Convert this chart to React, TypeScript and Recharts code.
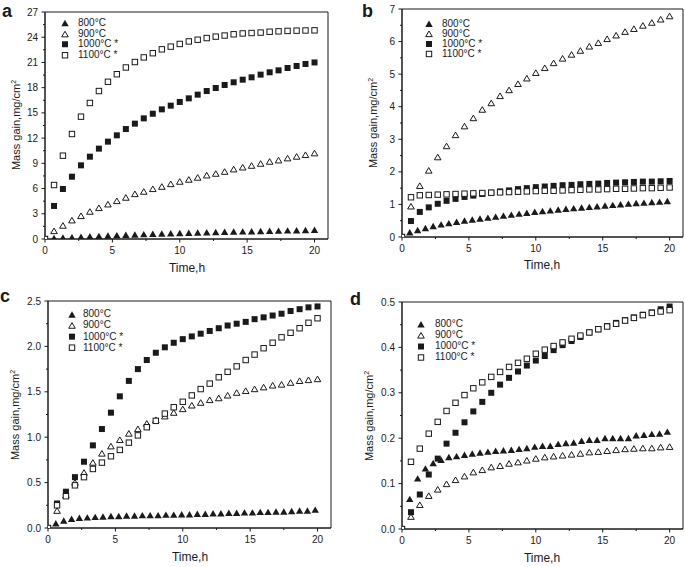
import { ScatterChart, Scatter, XAxis, YAxis, ReferenceArea, Legend } from 'recharts';

const INK = '#1a1a1a';
const FONT = '"Liberation Sans", Arial, Helvetica, sans-serif';

// legend names, plotted in this order so 1100 sits on top
const temps = ['800°C', '900°C', '1000°C *', '1100°C *'];

// sampling times (h): most runs every 40 min, the 800°C runs in b-d every 35 min
const t40 = [0, 0.67, 1.33, 2, 2.67, 3.33, 4, 4.67, 5.33, 6, 6.67, 7.33, 8, 8.67, 9.33, 10, 10.67, 11.33, 12, 12.67, 13.33, 14, 14.67, 15.33, 16, 16.67, 17.33, 18, 18.67, 19.33, 20];
const t35 = [0, 0.58, 1.17, 1.75, 2.33, 2.92, 3.5, 4.08, 4.67, 5.25, 5.83, 6.42, 7, 7.58, 8.17, 8.75, 9.33, 9.92, 10.5, 11.08, 11.67, 12.25, 12.83, 13.42, 14, 14.58, 15.17, 15.75, 16.33, 16.92, 17.5, 18.08, 18.67, 19.25, 19.83];

// panel a
const a800 = [0, 0.1, 0.15, 0.2, 0.25, 0.3, 0.35, 0.4, 0.44, 0.48, 0.52, 0.56, 0.6, 0.63, 0.66, 0.69, 0.72, 0.75, 0.78, 0.8, 0.83, 0.86, 0.88, 0.9, 0.93, 0.95, 0.97, 1.0, 1.02, 1.04, 1.07];
const a900 = [0, 0.95, 1.59, 2.22, 2.74, 3.25, 3.69, 4.12, 4.52, 4.92, 5.35, 5.63, 5.95, 6.22, 6.54, 6.82, 7.06, 7.3, 7.57, 7.77, 8.0, 8.29, 8.52, 8.72, 8.96, 9.2, 9.36, 9.6, 9.8, 10.0, 10.2];
const a1000 = [0, 3.93, 5.95, 7.41, 8.76, 9.79, 10.75, 11.58, 12.33, 13.08, 13.72, 14.35, 14.9, 15.42, 15.86, 16.3, 16.73, 17.17, 17.6, 17.96, 18.32, 18.64, 18.95, 19.23, 19.55, 19.83, 20.06, 20.34, 20.58, 20.82, 21.0];
const a1100 = [0, 6.42, 9.91, 12.49, 14.55, 16.18, 17.6, 18.7, 19.6, 20.4, 21.05, 21.6, 22.1, 22.56, 22.88, 23.2, 23.5, 23.7, 23.9, 24.07, 24.2, 24.35, 24.45, 24.5, 24.55, 24.65, 24.7, 24.75, 24.78, 24.8, 24.82];

// panel b
const b800 = [0, 0.14, 0.21, 0.27, 0.33, 0.38, 0.42, 0.46, 0.5, 0.53, 0.56, 0.59, 0.62, 0.65, 0.68, 0.71, 0.74, 0.77, 0.79, 0.81, 0.84, 0.86, 0.88, 0.9, 0.92, 0.94, 0.96, 0.98, 1.0, 1.02, 1.04, 1.05, 1.07, 1.08, 1.1];
const b900 = [0, 0.94, 1.57, 2.04, 2.45, 2.79, 3.13, 3.4, 3.65, 3.91, 4.11, 4.33, 4.51, 4.7, 4.87, 5.04, 5.19, 5.34, 5.48, 5.6, 5.72, 5.85, 5.96, 6.08, 6.19, 6.3, 6.39, 6.49, 6.58, 6.68, 6.78];
const b1000 = [0, 0.49, 0.77, 0.91, 1.02, 1.11, 1.17, 1.23, 1.27, 1.32, 1.36, 1.4, 1.43, 1.47, 1.5, 1.53, 1.55, 1.57, 1.59, 1.6, 1.62, 1.63, 1.64, 1.66, 1.67, 1.68, 1.69, 1.7, 1.7, 1.71, 1.72];
const b1100 = [0, 1.22, 1.28, 1.29, 1.3, 1.31, 1.32, 1.33, 1.34, 1.35, 1.36, 1.37, 1.38, 1.39, 1.4, 1.41, 1.42, 1.42, 1.43, 1.44, 1.45, 1.46, 1.46, 1.47, 1.48, 1.48, 1.49, 1.5, 1.5, 1.51, 1.52];

// panel c
const c800 = [0, 0.05, 0.08, 0.1, 0.11, 0.115, 0.12, 0.125, 0.13, 0.13, 0.135, 0.135, 0.14, 0.14, 0.14, 0.145, 0.145, 0.15, 0.15, 0.155, 0.155, 0.16, 0.16, 0.165, 0.165, 0.17, 0.17, 0.175, 0.175, 0.18, 0.18, 0.185, 0.19, 0.19, 0.2];
const c900 = [0, 0.19, 0.36, 0.5, 0.61, 0.72, 0.82, 0.9, 0.97, 1.04, 1.09, 1.15, 1.19, 1.23, 1.27, 1.31, 1.35, 1.38, 1.41, 1.43, 1.46, 1.49, 1.51, 1.53, 1.55, 1.57, 1.58, 1.6, 1.62, 1.63, 1.64];
const c1000 = [0, 0.27, 0.4, 0.56, 0.73, 0.91, 1.09, 1.27, 1.45, 1.62, 1.75, 1.85, 1.93, 1.99, 2.04, 2.08, 2.11, 2.14, 2.17, 2.2, 2.23, 2.25, 2.27, 2.3, 2.32, 2.34, 2.36, 2.39, 2.41, 2.43, 2.44];
const c1100 = [0, 0.25, 0.35, 0.47, 0.56, 0.65, 0.72, 0.79, 0.86, 0.94, 1.02, 1.11, 1.18, 1.26, 1.33, 1.39, 1.46, 1.53, 1.59, 1.66, 1.72, 1.78, 1.85, 1.91, 1.98, 2.04, 2.1, 2.15, 2.2, 2.26, 2.31];

// panel d
const d800 = [0, 0.066, 0.111, 0.133, 0.145, 0.152, 0.158, 0.16, 0.163, 0.166, 0.168, 0.17, 0.172, 0.173, 0.174, 0.176, 0.178, 0.181, 0.183, 0.183, 0.187, 0.189, 0.19, 0.194, 0.196, 0.196, 0.2, 0.2, 0.2, 0.2, 0.206, 0.207, 0.209, 0.21, 0.214];
const d900 = [0, 0.027, 0.053, 0.073, 0.087, 0.099, 0.108, 0.116, 0.125, 0.13, 0.136, 0.139, 0.144, 0.147, 0.151, 0.155, 0.158, 0.16, 0.162, 0.164, 0.166, 0.169, 0.17, 0.172, 0.174, 0.176, 0.177, 0.178, 0.178, 0.18, 0.181];
const d1000 = [0, 0.037, 0.076, 0.12, 0.155, 0.188, 0.212, 0.235, 0.259, 0.28, 0.3, 0.318, 0.333, 0.347, 0.36, 0.371, 0.381, 0.394, 0.405, 0.414, 0.423, 0.433, 0.44, 0.447, 0.454, 0.46, 0.466, 0.472, 0.477, 0.484, 0.49];
const d1100 = [0, 0.148, 0.177, 0.21, 0.236, 0.26, 0.278, 0.295, 0.31, 0.323, 0.335, 0.346, 0.357, 0.366, 0.375, 0.386, 0.395, 0.403, 0.411, 0.419, 0.426, 0.433, 0.44, 0.446, 0.452, 0.459, 0.465, 0.471, 0.476, 0.479, 0.482];

// axis ticks (majors get labels, the halves in between are minor)
const xTicks = [0, 2.5, 5, 7.5, 10, 12.5, 15, 17.5, 20];
const yTicksA = [0, 1.5, 3, 4.5, 6, 7.5, 9, 10.5, 12, 13.5, 15, 16.5, 18, 19.5, 21, 22.5, 24, 25.5, 27];
const yTicksB = [0, 0.5, 1, 1.5, 2, 2.5, 3, 3.5, 4, 4.5, 5, 5.5, 6, 6.5, 7];
const yTicksC = [0, 0.25, 0.5, 0.75, 1, 1.25, 1.5, 1.75, 2, 2.25, 2.5];
const yTicksD = [0, 0.05, 0.1, 0.15, 0.2, 0.25, 0.3, 0.35, 0.4, 0.45, 0.5];

const pts = (ts: number[], vs: number[]) => vs.map((v, i) => ({ t: ts[i], v }));

type Mk = (cx: number, cy: number) => JSX.Element;
const markers: Mk[] = [
  (cx, cy) => <polygon points={`${cx},${cy - 3.4} ${cx + 3.7},${cy + 3} ${cx - 3.7},${cy + 3}`} fill={INK} />,
  (cx, cy) => <polygon points={`${cx},${cy - 3} ${cx + 3.3},${cy + 2.6} ${cx - 3.3},${cy + 2.6}`} fill="#fff" stroke={INK} strokeWidth={1} />,
  (cx, cy) => <rect x={cx - 3} y={cy - 3} width={6} height={6} fill={INK} />,
  (cx, cy) => <rect x={cx - 2.7} y={cy - 2.7} width={5.4} height={5.4} fill="#fff" stroke={INK} strokeWidth={1} />,
];

function XTick(props: any) {
  const { x, y, payload } = props;
  const major = payload.value % 5 === 0;
  return (
    <g>
      <line x1={x} x2={x} y1={y} y2={y + (major ? 3.5 : 2)} stroke={INK} />
      {major && (
        <text x={x} y={y + 8} dy="0.71em" textAnchor="middle" fontSize={10} fill={INK} fontFamily={FONT}>
          {payload.value}
        </text>
      )}
    </g>
  );
}

function YTick(props: any) {
  const { x, y, payload, step, digits } = props;
  const r = payload.value / step;
  const major = Math.abs(r - Math.round(r)) < 1e-6;
  return (
    <g>
      <line x1={x} x2={x - (major ? 3.5 : 2)} y1={y} y2={y} stroke={INK} />
      {major && (
        <text x={x - 7} y={y} dy="0.355em" textAnchor="end" fontSize={10} fill={INK} fontFamily={FONT}>
          {payload.value.toFixed(digits)}
        </text>
      )}
    </g>
  );
}

function LegendBox({ rowH, gap }: { rowH: number; gap: number }) {
  return (
    <div style={{ fontFamily: FONT, fontSize: 10, color: INK }}>
      {temps.map((name, i) => (
        <div key={name} style={{ display: 'flex', alignItems: 'center', height: rowH }}>
          <svg width={10} height={rowH} style={{ display: 'block' }}>
            {markers[i](5, rowH / 2)}
          </svg>
          <span style={{ marginLeft: gap, lineHeight: 1, whiteSpace: 'nowrap' }}>{name}</span>
        </div>
      ))}
    </div>
  );
}

type Panel = {
  left: number; top: number; w: number; h: number;
  margin: { top: number; right: number; bottom: number; left: number };
  yWidth: number; yMax: number; yTicks: number[]; step: number; digits: number;
  series: { t: number; v: number }[][];
  legend: { x: number; y: number; rowH: number; gap: number };
};

const panels: Panel[] = [
  {
    left: 0, top: 0, w: 340, h: 285, margin: { top: 12, right: 12, bottom: 11, left: 0 },
    yWidth: 45, yMax: 27, yTicks: yTicksA, step: 3, digits: 0,
    series: [pts(t40, a800), pts(t40, a900), pts(t40, a1000), pts(t40, a1100)],
    legend: { x: 60, y: 18, rowH: 10.5, gap: 8 },
  },
  {
    left: 345, top: 0, w: 340, h: 285, margin: { top: 9, right: 2, bottom: 13, left: 0 },
    yWidth: 57, yMax: 7, yTicks: yTicksB, step: 1, digits: 0,
    series: [pts(t35, b800), pts(t40, b900), pts(t40, b1000), pts(t40, b1100)],
    legend: { x: 79, y: 19, rowH: 10, gap: 8 },
  },
  {
    left: 0, top: 285, w: 340, h: 282, margin: { top: 16, right: 9, bottom: 4, left: 0 },
    yWidth: 48, yMax: 2.5, yTicks: yTicksC, step: 0.5, digits: 1,
    series: [pts(t35, c800), pts(t40, c900), pts(t40, c1000), pts(t40, c1100)],
    legend: { x: 67, y: 23.5, rowH: 11.3, gap: 6 },
  },
  {
    left: 345, top: 285, w: 340, h: 282, margin: { top: 17, right: 2, bottom: 3, left: 0 },
    yWidth: 57, yMax: 0.5, yTicks: yTicksD, step: 0.1, digits: 1,
    series: [pts(t35, d800), pts(t40, d900), pts(t40, d1000), pts(t40, d1100)],
    legend: { x: 71, y: 33.5, rowH: 11, gap: 9 },
  },
];

// panel letters and axis titles: [letter x, letter baseline, y-title centre x, plot centre y, x-title centre x, x-title centre y]
const titles = [
  { letter: 'a', lx: 2, ly: 17, yx: 16, yy: 125, xx: 187, xy: 268 },
  { letter: 'b', lx: 362, ly: 17, yx: 373, yy: 123, xx: 542, xy: 265 },
  { letter: 'c', lx: 0, ly: 302, yx: 15, yy: 415, xx: 190, xy: 557 },
  { letter: 'd', lx: 350, ly: 305, yx: 369, yy: 416, xx: 542, xy: 558 },
];

function PanelChart({ p }: { p: Panel }) {
  return (
    <div style={{ position: 'absolute', left: p.left, top: p.top }}>
      <ScatterChart width={p.w} height={p.h} margin={p.margin}>
        <ReferenceArea x1={0} x2={21} y1={0} y2={p.yMax} fill="none" fillOpacity={0} stroke={INK} strokeWidth={1} ifOverflow="visible" />
        <XAxis
          type="number" dataKey="t" domain={[0, 21]} ticks={xTicks} interval={0} height={35}
          tickLine={false} tickSize={0} tickMargin={0} axisLine={{ stroke: INK }}
          tick={(tp: any) => <XTick {...tp} />} allowDataOverflow
        />
        <YAxis
          type="number" dataKey="v" domain={[0, p.yMax]} ticks={p.yTicks} interval={0} width={p.yWidth}
          tickLine={false} tickSize={0} tickMargin={0} axisLine={{ stroke: INK }}
          tick={(tp: any) => <YTick {...tp} step={p.step} digits={p.digits} />} allowDataOverflow
        />
        {p.series.map((data, i) => (
          <Scatter
            key={temps[i]} name={temps[i]} data={data} isAnimationActive={false}
            shape={(sp: any) => markers[i](sp.cx, sp.cy)}
          />
        ))}
        <Legend
          layout="horizontal" verticalAlign="middle" align="center"
          wrapperStyle={{ left: p.legend.x, top: p.legend.y, width: 'auto' }}
          content={() => <LegendBox rowH={p.legend.rowH} gap={p.legend.gap} />}
        />
      </ScatterChart>
    </div>
  );
}

export default function App() {
  return (
    <div style={{ position: 'absolute', left: 0, top: 0, width: 685, height: 567, background: '#fff', fontFamily: FONT }}>
      {panels.map((p, i) => (
        <PanelChart key={i} p={p} />
      ))}
      <svg width={685} height={567} style={{ position: 'absolute', left: 0, top: 0, pointerEvents: 'none' }}>
        {titles.map((t) => (
          <g key={t.letter} fontFamily={FONT} fill={INK}>
            <text x={t.lx} y={t.ly} fontSize={18} fontWeight="bold">{t.letter}</text>
            <text x={t.xx} y={t.xy + 4} fontSize={12} textAnchor="middle">Time,h</text>
            <text transform={`translate(${t.yx + 4},${t.yy}) rotate(-90)`} fontSize={11} textAnchor="middle">
              Mass gain,mg/cm<tspan dy={-4} fontSize={7}>2</tspan>
            </text>
          </g>
        ))}
      </svg>
    </div>
  );
}
